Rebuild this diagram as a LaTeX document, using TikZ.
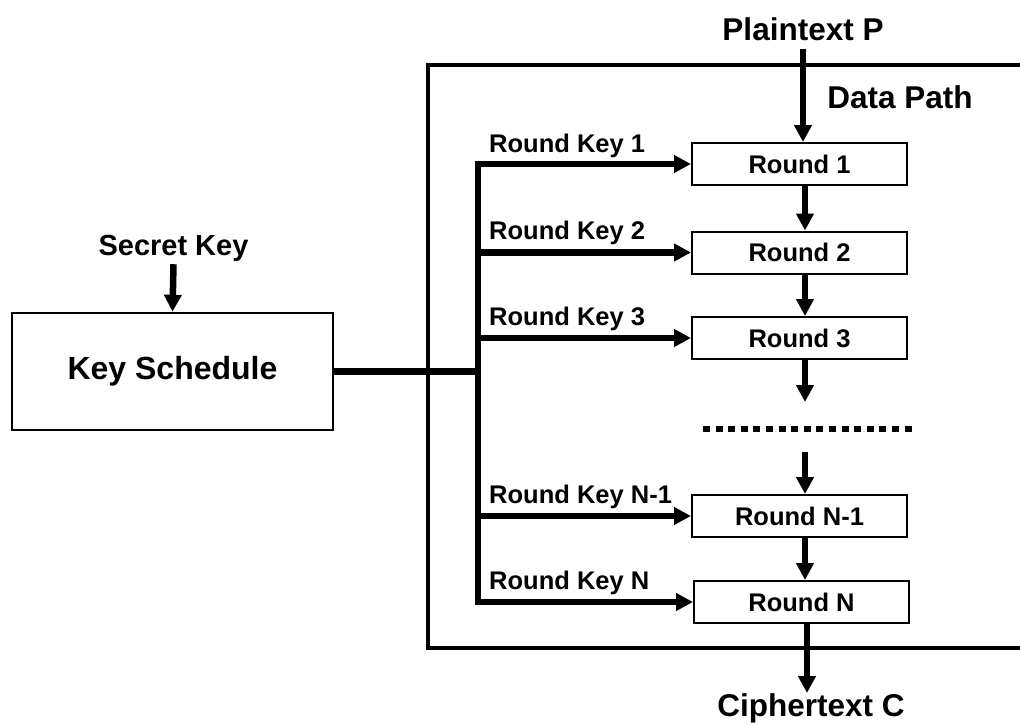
\documentclass[tikz,border=0pt]{standalone}
\usepackage{fontspec}
\setmainfont{Liberation Sans}
\usetikzlibrary{arrows.meta,calc}
\begin{document}
\begin{tikzpicture}[x=1pt,y=-1pt,
  roundbox/.style={draw, line width=2pt, minimum width=215pt, minimum height=42pt,
    inner sep=0pt, font=\fontsize{25.5}{30}\selectfont\bfseries},
  ksbox/.style={draw, line width=2.6pt, minimum width=321pt, minimum height=117pt,
    inner sep=0pt, font=\fontsize{32}{38}\selectfont\bfseries},
  biglbl/.style={inner sep=0pt, anchor=base, font=\fontsize{31.5}{36}\selectfont\bfseries},
  keylbl/.style={inner sep=0pt, anchor=base west, font=\fontsize{25.5}{30}\selectfont\bfseries},
  flow/.style={line width=6.5pt, -{Triangle[length=17pt,width=17pt]}},
  wire/.style={line width=6.5pt},
  frame/.style={line width=3.3pt}]

\useasboundingbox (0,0) rectangle (1020,724);

% data path enclosure (open on the right)
\draw[frame] (1022,65) -- (428,65) -- (428,648) -- (1022,648);
\node[biglbl] (dp) at (900,108) {Data Path};

% key schedule
\node[ksbox] (ks) at (172.5,371.5) {Key Schedule};
\node[biglbl, font=\fontsize{29}{34}\selectfont\bfseries] (sk) at (173.5,255) {Secret Key};
\draw[flow] ($(sk.south)+(0,3)$) -- (ks.north);

% rounds
\node[roundbox] (r1) at (799.5,164) {Round 1};
\node[roundbox] (r2) at (799.5,252.5) {Round 2};
\node[roundbox] (r3) at (799.5,338) {Round 3};
\node[roundbox] (rn1) at (799.5,516) {Round N-1};
\node[roundbox] (rn) at (801.5,602) {Round N};

% plaintext in, ciphertext out
\node[biglbl] (pt) at (803,40) {Plaintext P};
\node[biglbl] (ct) at (811,716) {Ciphertext C};
\draw[flow] ($(pt.south)+(0,8)$) -- (pt.south |- r1.north);
\draw[flow] ($(r1.south)+(5.5,0)$) -- ($(r2.north)+(5.5,0)$);
\draw[flow] ($(r2.south)+(5.5,0)$) -- ($(r3.north)+(5.5,0)$);
\coordinate (gapA) at (805,402);
\coordinate (gapB) at (805,452);
\draw[flow] ($(r3.south)+(5.5,0)$) -- (gapA);
\draw[line width=6.5pt, dash pattern=on 7pt off 5.6pt] (703,429) -- (913,429);
\draw[flow] (gapB) -- ($(rn1.north)+(5.5,0)$);
\draw[flow] ($(rn1.south)+(5.5,0)$) -- ($(rn.north)+(3.5,0)$);
\draw[flow] ($(rn.south)+(5.5,0)$) -- (807,693);

% round key bus
\coordinate (tap) at (478,371.5);
\draw[wire] (ks.east) -- (tap);
\draw[flow] (tap |- rn.west) -- (tap |- r1.west) -- (r1.west);
\draw[flow] (tap |- r1.west) -- (tap |- rn.west) -- (rn.west);
\draw[flow] (tap |- r2.west) -- (r2.west);
\draw[flow] (tap |- r3.west) -- (r3.west);
\draw[flow] (tap |- rn1.west) -- (rn1.west);

\node[keylbl] (k1) at (489,152) {Round Key 1};
\node[keylbl] (k2) at (489,239) {Round Key 2};
\node[keylbl] (k3) at (489,325) {Round Key 3};
\node[keylbl] (kn1) at (489,503) {Round Key N-1};
\node[keylbl] (kn) at (489,589) {Round Key N};
\end{tikzpicture}
\end{document}
